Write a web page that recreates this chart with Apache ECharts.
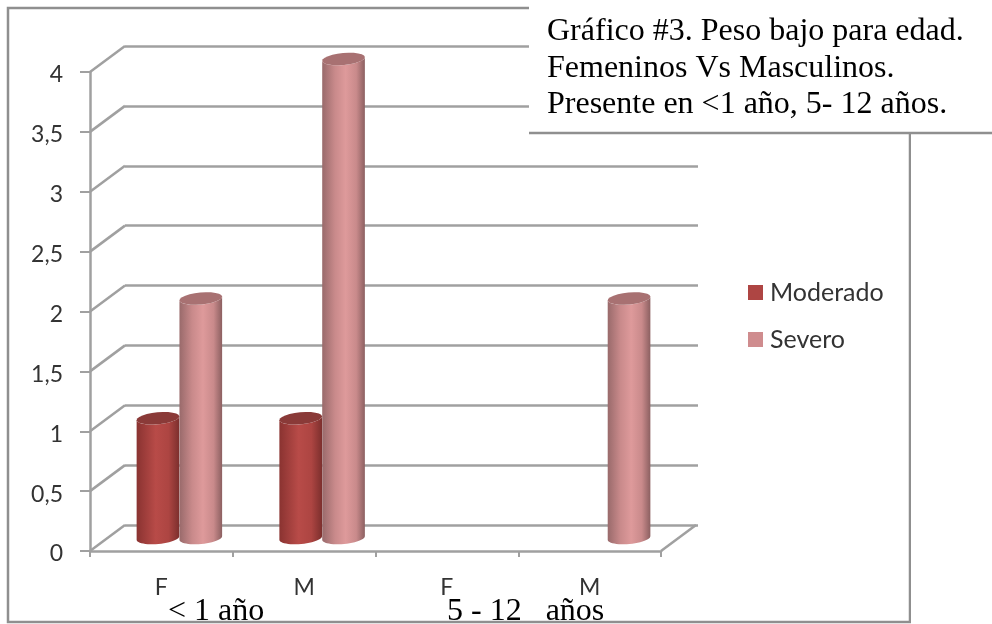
<!DOCTYPE html>
<html>
<head>
<meta charset="utf-8">
<style>
  html, body { margin: 0; padding: 0; background: #fff; }
  #chart { width: 992px; height: 624px; }
</style>
<script src="https://cdn.jsdelivr.net/npm/echarts@6/dist/echarts.min.js"></script>
</head>
<body>
<div id="chart"></div>
<script>
const categories = ['F', 'M', 'F', 'M']
const moderado = [1, 1, 0, 0]
const severo = [2, 4, 0, 2]
const yTicks = [0, 0.5, 1, 1.5, 2, 2.5, 3, 3.5, 4]
const titleLines = ['Gráfico #3. Peso bajo para edad.', 'Femeninos Vs Masculinos.', 'Presente en <1 año, 5- 12 años.']
const groupLabels = ['< 1 año', '5 - 12   años']

const GRID_COLOR = '#a0a0a0'
const BORDER_COLOR = '#8f8f8f'
const TEXT_COLOR = '#333'
const SANS = 'Lato, "Noto Sans", sans-serif'
const SERIF = '"Liberation Serif", serif'
// how far the 3D back wall sits from the front plane
const WALL_DX = 35
const WALL_DY = -26
// cylinders stand half way into the floor
const BAR_DX = 18
const BAR_DY = -13

const chart = echarts.init(document.getElementById('chart'))

function arcPoints(cx, cy, rx, ry, rot, from, to) {
  const pts = []
  const n = 24
  for (let i = 0; i <= n; i++) {
    const a = from + (to - from) * i / n
    const x = rx * Math.cos(a)
    const y = ry * Math.sin(a)
    pts.push([cx + x * Math.cos(rot) - y * Math.sin(rot), cy + x * Math.sin(rot) + y * Math.cos(rot)])
  }
  return pts
}

function cylinderSeries(name, values, side, stops, capColor) {
  return {
    name: name,
    type: 'custom',
    xAxisIndex: 0,
    yAxisIndex: 0,
    z: 5,
    itemStyle: { color: stops.legend },
    data: values.map((v, i) => [i, v]),
    encode: { x: 0, y: 1 },
    renderItem(params, api) {
      const v = api.value(1)
      if (!v) return null
      const top = api.coord([api.value(0), v])
      const base = api.coord([api.value(0), 0])
      const rx = api.size([1, 0])[0] * 0.15
      const ry = 6
      const rot = -0.09
      const cx = top[0] + BAR_DX + side * rx
      const topY = top[1] + BAR_DY
      const baseY = base[1] + BAR_DY
      const lower = arcPoints(cx, baseY, rx, ry, rot, Math.PI, 0)
      const upper = arcPoints(cx, topY, rx, ry, rot, 0, Math.PI)
      return {
        type: 'group',
        children: [
          {
            type: 'polygon',
            shape: { points: lower.concat(upper) },
            style: {
              fill: new echarts.graphic.LinearGradient(0, 0, 1, 0, stops.body)
            }
          },
          {
            type: 'polygon',
            shape: { points: arcPoints(cx, topY, rx, ry, rot, 0, Math.PI * 2) },
            style: { fill: capColor }
          }
        ]
      }
    }
  }
}

chart.setOption({
  animation: false,
  backgroundColor: '#fff',
  legend: {
    orient: 'vertical',
    left: 743,
    top: 275,
    icon: 'rect',
    itemWidth: 15,
    itemHeight: 15,
    itemGap: 22,
    selectedMode: false,
    data: ['Moderado', 'Severo'],
    textStyle: { color: TEXT_COLOR, fontFamily: SANS, fontSize: 25, padding: [0, 0, 0, 2] }
  },
  grid: [
    { left: 90, right: 331, top: 72, bottom: 73 },
    { left: 125, right: 294, top: 46, bottom: 99 }
  ],
  xAxis: [
    {
      gridIndex: 0,
      type: 'category',
      data: categories,
      axisLine: { lineStyle: { color: GRID_COLOR, width: 2.5 } },
      axisTick: { show: true, length: 6, lineStyle: { color: GRID_COLOR, width: 2 } },
      axisLabel: { color: TEXT_COLOR, fontFamily: SANS, fontSize: 23, margin: 25 }
    },
    { gridIndex: 1, type: 'category', data: categories, show: false }
  ],
  yAxis: [
    {
      gridIndex: 0,
      type: 'value',
      min: 0,
      max: 4,
      interval: 0.5,
      axisLine: { show: true, lineStyle: { color: GRID_COLOR, width: 2.5 } },
      axisTick: { show: true, length: 10, lineStyle: { color: GRID_COLOR, width: 2 } },
      splitLine: { show: false },
      axisLabel: {
        margin: 27,
        formatter: v => '{n|' + String(v).replace('.', ',') + '}',
        rich: {
          n: { color: TEXT_COLOR, fontFamily: SANS, fontSize: 23, padding: [6, 0, 0, 0] }
        }
      }
    },
    {
      gridIndex: 1,
      type: 'value',
      min: 0,
      max: 4,
      interval: 0.5,
      axisLine: { show: false },
      axisTick: { show: false },
      axisLabel: { show: false },
      splitLine: { show: true, lineStyle: { color: GRID_COLOR, width: 2.5 } }
    }
  ],
  series: [
    {
      // diagonals joining the front ticks to the back wall, plus the floor edge
      type: 'custom',
      silent: true,
      z: 1,
      xAxisIndex: 0,
      yAxisIndex: 0,
      data: yTicks.map(v => [0, v]).concat([[categories.length, 0]]),
      encode: { y: 1 },
      renderItem(params, api) {
        const p = api.coord([0, api.value(1)])
        const step = api.size([1, 0])[0]
        // category coords sit mid band, the axis starts half a band before
        const x = p[0] - step / 2 + step * api.value(0)
        return {
          type: 'line',
          shape: { x1: x, y1: p[1], x2: x + WALL_DX, y2: p[1] + WALL_DY },
          style: { stroke: GRID_COLOR, lineWidth: 2.5 }
        }
      }
    },
    cylinderSeries('Moderado', moderado, -1, {
      legend: '#ae4543',
      body: [
        { offset: 0, color: '#8a3331' },
        { offset: 0.45, color: '#b84b48' },
        { offset: 0.75, color: '#ad4542' },
        { offset: 1, color: '#7c2f2d' }
      ]
    }, '#8a3a38'),
    cylinderSeries('Severo', severo, 1, {
      legend: '#cf8c8e',
      body: [
        { offset: 0, color: '#996a6b' },
        { offset: 0.3, color: '#c98a8b' },
        { offset: 0.55, color: '#de9a9b' },
        { offset: 0.8, color: '#c98a8b' },
        { offset: 1, color: '#8c6061' }
      ]
    }, '#a87172')
  ],
  graphic: {
    elements: [
      {
        type: 'rect',
        z: -1,
        shape: { x: 8, y: 8, width: 902, height: 614 },
        style: { fill: 'none', stroke: BORDER_COLOR, lineWidth: 2.5 }
      },
      {
        type: 'rect',
        z: 50,
        shape: { x: 529, y: 0, width: 463, height: 133 },
        style: { fill: '#fff' }
      },
      {
        type: 'rect',
        z: 50,
        shape: { x: 911, y: 0, width: 81, height: 624 },
        style: { fill: '#fff' }
      },
      {
        type: 'line',
        z: 51,
        shape: { x1: 529, y1: 133, x2: 992, y2: 133 },
        style: { stroke: BORDER_COLOR, lineWidth: 2.5 }
      },
      ...titleLines.map((line, i) => ({
        type: 'text',
        z: 52,
        x: 547,
        y: 32 + i * 36.5,
        style: { text: line, fill: '#000', font: '32px ' + SERIF, textVerticalAlign: 'middle' }
      })),
      {
        type: 'text',
        z: 52,
        x: 168,
        y: 612,
        style: { text: groupLabels[0], fill: '#000', font: '32px ' + SERIF, textVerticalAlign: 'middle' }
      },
      {
        type: 'text',
        z: 52,
        x: 447,
        y: 612,
        style: { text: groupLabels[1], fill: '#000', font: '32px ' + SERIF, textVerticalAlign: 'middle' }
      }
    ]
  }
})
</script>
</body>
</html>
